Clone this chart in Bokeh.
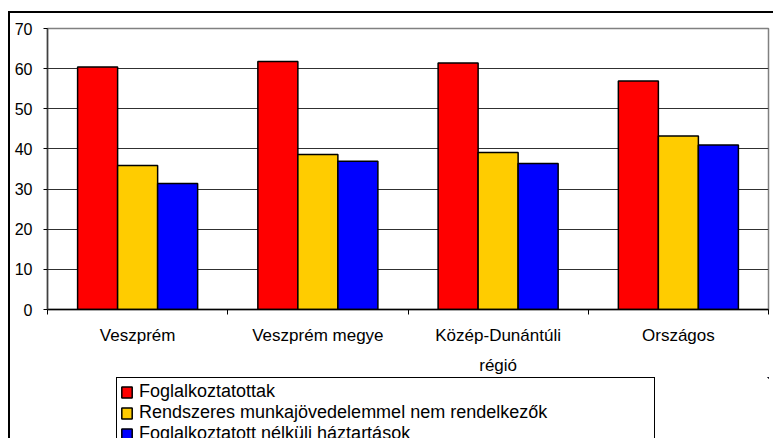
from bokeh.plotting import figure
from bokeh.models import ColumnDataSource, FixedTicker, Legend, LegendItem, Range1d
from bokeh.transform import dodge
from bokeh.embed import file_html
from bokeh.resources import INLINE

categories = ["Veszprém", "Veszprém megye", "Közép-Dunántúli\nrégió", "Országos"]
series_names = ["Foglalkoztatottak",
                "Rendszeres munkajövedelemmel nem rendelkezők",
                "Foglalkoztatott nélküli háztartások"]
foglalkoztatottak = [60.4, 61.8, 61.4, 56.9]
rendszeres = [35.9, 38.6, 39.1, 43.2]
nelkuli = [31.4, 36.9, 36.4, 41.0]
y_ticks = [0, 10, 20, 30, 40, 50, 60, 70]
colors = ["#FF0000", "#FFCC00", "#0000FF"]
keys = ["a", "b", "c"]

xpos = [i + 0.5 for i in range(len(categories))]
src = ColumnDataSource(dict(x=xpos, a=foglalkoztatottak, b=rendszeres, c=nelkuli))
bw = 0.222
offsets = [-bw, 0.0, bw]

# ---------------- main chart ----------------
p = figure(width=763, height=360, output_backend="svg", toolbar_location=None,
           x_range=Range1d(0, len(categories)), y_range=Range1d(0, 70),
           min_border_left=37, min_border_right=5, min_border_top=15, min_border_bottom=64)
p.frame_width = 721
p.frame_height = 281
p.styles = {"margin-left": "8px", "margin-top": "11px",
            "border-left": "2px solid black", "border-top": "2px solid black"}

for key, off, col in zip(keys, offsets, colors):
    p.vbar(x=dodge("x", off, range=p.x_range), top=key, width=bw, source=src,
           fill_color=col, line_color="black", line_width=1.5)

p.outline_line_color = "#808080"
p.outline_line_width = 1.5
p.background_fill_color = "white"
p.border_fill_color = "white"

p.yaxis.ticker = FixedTicker(ticks=y_ticks)
p.yaxis.axis_line_color = "#404040"
p.yaxis.axis_line_width = 1.5
p.yaxis.major_tick_in = 0
p.yaxis.major_tick_out = 4
p.yaxis.minor_tick_line_color = None
p.yaxis.major_label_text_font = "Liberation Sans"
p.yaxis.major_label_text_font_size = "16px"
p.yaxis.major_label_text_color = "black"
p.yaxis.major_label_standoff = 11
p.ygrid.grid_line_color = "#303030"
p.ygrid.grid_line_width = 1

p.xaxis.ticker = FixedTicker(ticks=xpos, minor_ticks=list(range(len(categories) + 1)))
p.xaxis.major_label_overrides = {x: c for x, c in zip(xpos, categories)}
p.xaxis.major_tick_in = 0
p.xaxis.major_tick_out = 0
p.xaxis.minor_tick_in = 0
p.xaxis.minor_tick_out = 5
p.xaxis.minor_tick_line_color = "black"
p.xaxis.axis_line_color = "black"
p.xaxis.axis_line_width = 1.5
p.xaxis.major_label_text_font = "Liberation Sans"
p.xaxis.major_label_text_font_size = "17px"
p.xaxis.major_label_text_color = "black"
p.xaxis.major_label_standoff = 11
p.xaxis.major_label_text_line_height = 1.6
p.xgrid.grid_line_color = None

# ---------------- legend strip (separate root, no frame alignment) ----------------
lg = figure(width=763, height=61, output_backend="svg", toolbar_location=None,
            x_range=Range1d(-20, -19), y_range=Range1d(-2, -1),
            x_axis_location=None, y_axis_location=None,
            min_border_left=106, min_border_right=5, min_border_top=0, min_border_bottom=0)
lg.styles = {"margin-left": "8px", "border-left": "2px solid black"}
lg.grid.visible = False
lg.outline_line_color = None
lg.background_fill_color = "white"
lg.border_fill_color = "white"
leg_r = []
for key, off, col in zip(keys, offsets, colors):
    r = lg.vbar(x=dodge("x", off, range=lg.x_range), top=key, width=bw, source=src,
                fill_color=col, line_color="black", line_width=1.5)
    leg_r.append(r)

legend = Legend(items=[LegendItem(label=n, renderers=[r]) for n, r in zip(series_names, leg_r)],
                location="top_left", border_line_color="black", border_line_width=1.5,
                border_line_alpha=1.0,
                label_text_font="Liberation Sans", label_text_font_size="18px",
                label_text_color="black",
                glyph_width=13, glyph_height=14, spacing=0, padding=3, margin=0,
                label_standoff=6, label_height=14, label_width=512,
                background_fill_color="white", background_fill_alpha=1)
lg.add_layout(legend, "center")

open("out.html", "w").write(file_html([p, lg], INLINE))
